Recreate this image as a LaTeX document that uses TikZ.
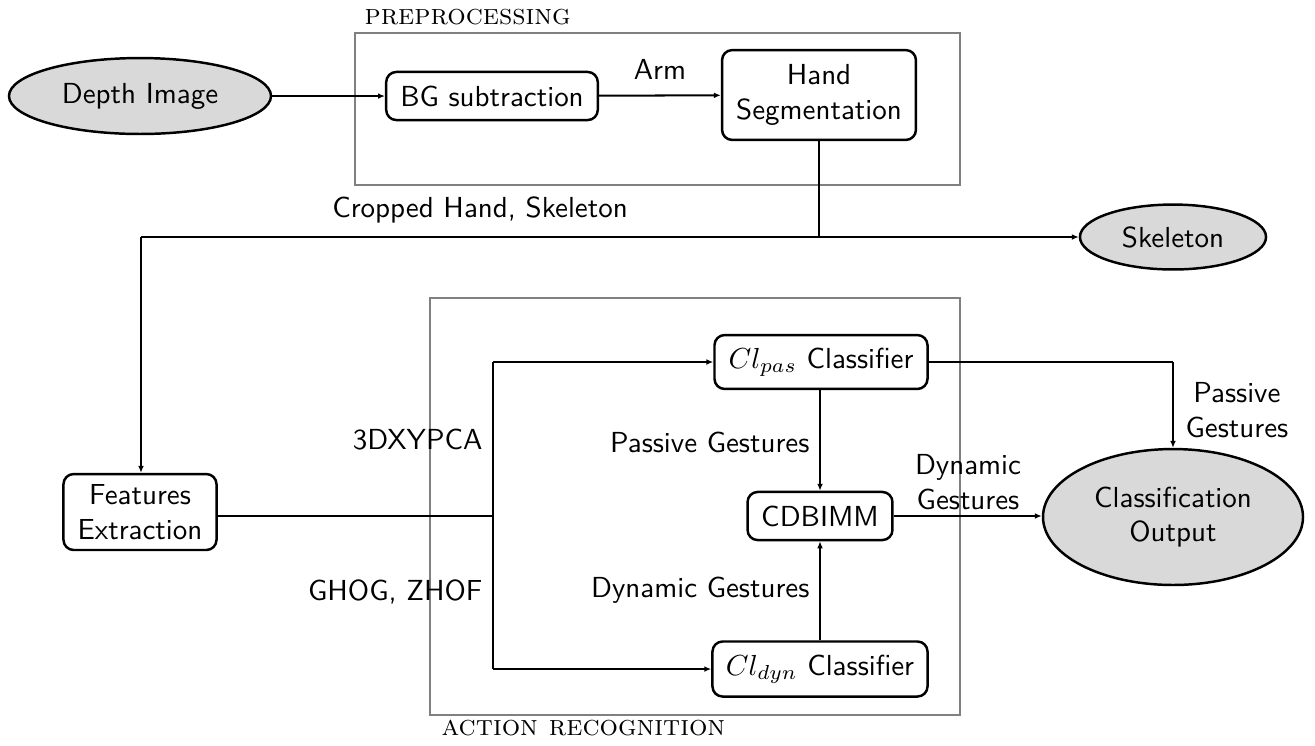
\documentclass[tikz,border=0pt]{standalone}
\usetikzlibrary{shapes.geometric,arrows.meta,positioning}
\begin{document}
\begin{tikzpicture}[
  x=0.345pt, y=-0.345pt,
  font=\sffamily,
  every node/.style={inner sep=0pt},
  blk/.style={draw, line width=0.85pt, rounded corners=3.5pt, align=center},
  io/.style={draw, ellipse, line width=0.85pt, fill=black!15, align=center},
  grp/.style={draw=black!50, line width=0.7pt},
  conn/.style={line width=0.7pt},
  arr/.style={conn, -{Latex[length=2.4pt,width=2pt]}},
  lbl/.style={align=center}
]
\useasboundingbox (0,0) rectangle (1315,745);

% group frames
\draw[grp] (355,33) rectangle (960,185);
\node[anchor=base west, font=\rmfamily] at (364,24) {\textsc{preprocessing}};
\draw[grp] (430,298) rectangle (960,715);
\node[anchor=base west, font=\rmfamily] at (441,735) {\textsc{action recognition}};

% nodes
\node[io, minimum width=90.4pt, minimum height=26.2pt] (depth) at (140,96) {Depth Image};
\node[blk, minimum width=73pt, minimum height=16.6pt] (bg) at (492,96) {BG subtraction};
\node[blk, minimum width=66.9pt, minimum height=31pt] (hand) at (819,95) {Hand\\Segmentation};
\node[io, minimum width=64.2pt, minimum height=22.4pt] (skel) at (1173,237) {Skeleton};
\node[blk, minimum width=52.8pt, minimum height=26.2pt] (feat) at (140,512) {Features\\Extraction};
\node[blk, minimum width=73.5pt, minimum height=18.6pt] (pas) at (821,362) {$Cl_{pas}$ Classifier};
\node[blk, minimum width=50pt, minimum height=16.6pt] (cdb) at (820,516) {CDBIMM};
\node[blk, minimum width=74.2pt, minimum height=19pt] (dyn) at (820,669) {$Cl_{dyn}$ Classifier};
\node[io, minimum width=89.7pt, minimum height=46.9pt] (out) at (1173,517) {Classification\\Output};

% junction points
\coordinate (split) at (819,237);
\coordinate (left) at (141,237);
\coordinate (fork) at (493,516);
\coordinate (forkup) at (493,362);
\coordinate (forkdn) at (493,669);
\coordinate (turn) at (1173,362);

% connectors
\draw[arr] (depth) -- (bg);
\draw[arr] (bg) -- node[above=5pt] {Arm} (hand);
\draw[conn] (hand.south) -- (split);
\draw[arr] (split) -- (skel);
\draw[conn] (split) -- (left);
\draw[arr] (left) -- (left |- feat.north);
\node at (480,210) {Cropped Hand, Skeleton};

\draw[conn] (feat.east |- fork) -- (fork);
\draw[conn] (forkup) -- (forkdn);
\draw[arr] (forkup) -- (pas.west |- forkup);
\draw[arr] (forkdn) -- (dyn.west |- forkdn);
\node[anchor=east] at (483,440) {3DXYPCA};
\node[anchor=east] at (483,592) {GHOG, ZHOF};

\draw[arr] (pas.south -| cdb) -- (cdb.north);
\draw[arr] (dyn.north -| cdb) -- (cdb.south);
\node[anchor=east] at (810,442) {Passive Gestures};
\node[anchor=east] at (810,590) {Dynamic Gestures};

\draw[arr] (cdb.east) -- (out.west |- cdb.east);
\node[lbl] at (968,482) {Dynamic\\Gestures};
\draw[conn] (pas.east) -- (turn);
\draw[arr] (turn) -- (out.north);
\node[lbl, anchor=west] at (1185,410) {Passive\\Gestures};
\end{tikzpicture}
\end{document}
